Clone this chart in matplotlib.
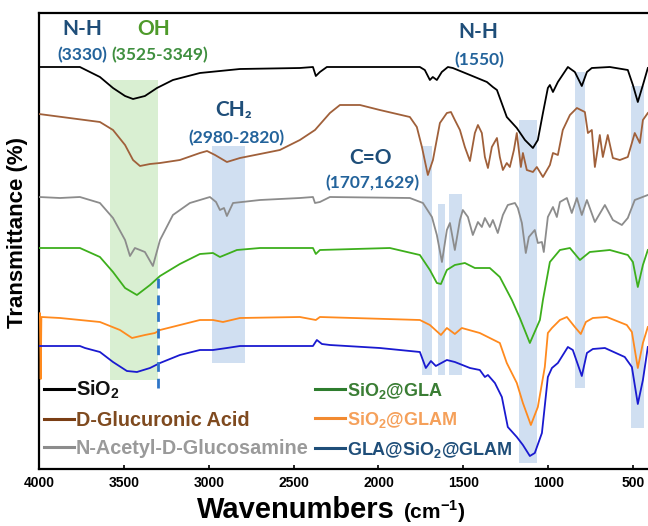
import matplotlib
matplotlib.use("Agg")
import matplotlib.pyplot as plt
from matplotlib.lines import Line2D

plt.rcParams['font.family'] = ['Liberation Sans', 'DejaVu Sans']
plt.rcParams['mathtext.fontset'] = 'custom'
plt.rcParams['mathtext.rm'] = 'Liberation Sans'
plt.rcParams['mathtext.bf'] = 'Liberation Sans:bold'

# ---------------- data (wavenumber cm-1, transmittance a.u. incl. offset) ----------------
sio2_wn = [4000, 3759, 3641, 3564, 3493, 3446, 3376, 3305, 3211, 3052, 2816, 2463, 2386, 2369, 2345, 2304,
           1756, 1727, 1697, 1680, 1656, 1627, 1591, 1562, 1461, 1361, 1326, 1302, 1244, 1185, 1137, 1090,
           1061, 1031, 1002, 990, 972, 943, 884, 843, 802, 772, 743, 637, 531, 501, 472, 442, 413]
sio2_t = [402, 402, 392, 381, 373, 370, 373, 381, 389, 396, 400, 401, 402, 393, 397, 402,
          402, 399, 389, 392, 389, 397, 402, 401, 394, 387, 382, 379, 352, 341, 329, 321,
          329, 356, 381, 384, 377, 387, 402, 397, 383, 397, 401, 402, 399, 384, 367, 384, 401]

gla_wn = [4000, 3641, 3564, 3493, 3446, 3405, 3346, 3287, 3170, 3052, 3010, 2963, 2893, 2816, 2698, 2581,
          2463, 2374, 2286, 2227, 2109, 1992, 1815, 1774, 1744, 1709, 1679, 1638, 1597, 1573, 1550, 1520,
          1491, 1461, 1432, 1414, 1391, 1373, 1355, 1332, 1302, 1285, 1267, 1244, 1226, 1202, 1185, 1173,
          1161, 1149, 1126, 1090, 1067, 1031, 990, 972, 943, 914, 872, 831, 784, 766, 743, 725, 696, 678,
          649, 619, 578, 531, 490, 460, 442, 413]
gla_t = [355, 347, 339, 324, 309, 303, 305, 306, 309, 316, 318, 314, 307, 311, 315, 319,
         329, 339, 356, 364, 364, 359, 352, 342, 322, 294, 309, 346, 356, 357, 349, 339,
         322, 308, 336, 344, 336, 312, 301, 322, 331, 312, 299, 306, 302, 319, 336, 319,
         302, 316, 299, 297, 302, 292, 304, 316, 314, 339, 354, 361, 357, 336, 339, 302, 334, 312,
         334, 311, 309, 312, 336, 326, 349, 356]

nag_wn = [4000, 3876, 3759, 3641, 3564, 3493, 3464, 3435, 3405, 3376, 3329, 3287, 3211, 3111, 2993, 2957,
          2934, 2910, 2893, 2857, 2698, 2463, 2386, 2374, 2345, 2286, 1815, 1738, 1685, 1656, 1626, 1597,
          1579, 1550, 1520, 1503, 1473, 1444, 1414, 1391, 1373, 1344, 1326, 1297, 1267, 1238, 1196, 1179,
          1155, 1132, 1114, 1079, 1061, 1037, 1026, 1002, 972, 949, 931, 890, 861, 831, 802, 772, 725,
          666, 619, 566, 531, 490, 413]
nag_t = [272, 271, 272, 266, 251, 229, 213, 221, 219, 217, 203, 229, 254, 266, 272, 267,
         259, 261, 253, 266, 269, 271, 272, 266, 267, 272, 271, 266, 252, 234, 207, 239,
         246, 219, 249, 259, 252, 234, 247, 242, 251, 242, 249, 236, 254, 264, 266, 261,
         246, 216, 232, 239, 226, 227, 217, 252, 262, 252, 267, 271, 256, 271, 254, 269, 247,
         264, 249, 244, 251, 269, 274]

sgla_wn = [4000, 3759, 3641, 3564, 3493, 3423, 3346, 3287, 3170, 3052, 2975, 2934, 2834, 2698, 2386, 2369,
           2345, 1933, 1756, 1697, 1656, 1632, 1597, 1550, 1491, 1432, 1344, 1285, 1214, 1167, 1108, 1049,
           1031, 990, 931, 872, 813, 755, 637, 531, 501, 472, 442, 413]
sgla_t = [221, 221, 212, 197, 181, 174, 184, 193, 205, 215, 216, 212, 219, 221, 221, 215,
          219, 221, 214, 199, 186, 185, 199, 204, 206, 201, 201, 192, 169, 151, 126, 149,
          169, 207, 219, 221, 209, 217, 219, 214, 207, 182, 204, 219]

sglam_wn = [4000, 3995, 3990, 3986, 3876, 3641, 3523, 3452, 3376, 3317, 3287, 3052, 2975, 2916, 2816, 2463,
            2369, 2345, 1756, 1697, 1632, 1597, 1550, 1509, 1403, 1285, 1244, 1185, 1149, 1102, 1061, 1020,
            1002, 978, 931, 890, 843, 808, 778, 737, 655, 537, 507, 472, 442, 413]
sglam_t = [152, 156, 90, 152, 151, 147, 139, 131, 134, 136, 139, 149, 149, 147, 151, 152,
           149, 152, 149, 144, 134, 141, 135, 141, 136, 126, 106, 86, 66, 44, 62, 102,
           136, 141, 149, 152, 142, 135, 147, 151, 152, 144, 137, 101, 126, 142]

both_wn = [4000, 3759, 3729, 3641, 3564, 3482, 3423, 3346, 3287, 3170, 3052, 2975, 2893, 2816, 2386, 2363,
           2333, 2286, 1992, 1756, 1721, 1691, 1662, 1597, 1550, 1461, 1403, 1373, 1355, 1314, 1273, 1238,
           1185, 1149, 1108, 1079, 1037, 1002, 978, 943, 884, 855, 802, 772, 737, 666, 549, 507, 472, 442, 413]
both_t = [123, 123, 121, 117, 107, 98, 97, 101, 106, 114, 119, 119, 121, 123, 123, 129,
          125, 124, 121, 117, 101, 108, 103, 109, 107, 101, 99, 92, 94, 86, 72, 42,
          32, 24, 13, 16, 36, 92, 101, 106, 122, 119, 93, 116, 120, 121, 112, 102, 65, 89, 122]

# shaded bands: (wn_high, wn_low, t_bottom, t_top)
oh_band = (3582, 3299, 89, 389)
blue_bands = [(2981, 2787, 106, 323), (1744, 1685, 94, 323), (1650, 1609, 94, 265),
              (1585, 1509, 94, 275), (1173, 1067, 6, 349), (843, 784, 81, 397), (513, 437, 41, 383)]
nh_line = (3300, 81, 192)

x_ticks = [4000, 3500, 3000, 2500, 2000, 1500, 1000, 500]

series = [
    (r"SiO$_\mathbf{2}$", sio2_wn, sio2_t, '#000000', '#000000', '#111111'),
    ("D-Glucuronic Acid", gla_wn, gla_t, '#A0603A', '#7A3E14', '#7F4A1F'),
    ("N-Acetyl-D-Glucosamine", nag_wn, nag_t, '#8C8C8C', '#8C8C8C', '#9A9A9A'),
    (r"SiO$_\mathbf{2}$@GLA", sgla_wn, sgla_t, '#3DAF1C', '#2E7D2E', '#3A7D34'),
    (r"SiO$_\mathbf{2}$@GLAM", sglam_wn, sglam_t, '#FF8A1E', '#F28A30', '#F5A05A'),
    (r"GLA@SiO$_\mathbf{2}$@GLAM", both_wn, both_t, '#1A1AD0', '#1F4E79', '#1F4E79'),
]

W, H = 648, 526
fig = plt.figure(figsize=(W / 100, H / 100), dpi=100)
ax = fig.add_axes([39 / W, 1 - 469 / H, 1 - 39 / W, (469 - 13) / H])

# bands
ax.fill_between([oh_band[0], oh_band[1]], oh_band[2], oh_band[3], color='#D9EFD2', lw=0, zorder=0)
for b in blue_bands:
    ax.fill_between([b[0], b[1]], b[2], b[3], color='#D0DFF1', lw=0, zorder=0)

for name, wn, t, col, _, _ in series:
    ax.plot(wn, t, color=col, lw=1.3, zorder=3)

ax.plot([nh_line[0], nh_line[0]], [nh_line[1], nh_line[2]], color='#2E75C8', lw=2.0,
        ls=(0, (3.5, 2.5)), zorder=4)

ax.set_xlim(4000, 412)
ax.set_ylim(0, 456)
ax.set_yticks([])
ax.set_xticks(x_ticks)
ax.set_xticklabels([str(v) for v in x_ticks], fontweight='bold', fontsize=10)
ax.tick_params(axis='x', direction='in', length=3, width=1.2, pad=5)
for s in ['left', 'bottom', 'top']:
    ax.spines[s].set_linewidth(1.6)
ax.spines['right'].set_visible(False)

# legend
handles = [Line2D([0], [0], color=s[4], lw=2.2) for s in series]
labels = [s[0] for s in series]
leg = ax.legend(handles, labels, ncol=2, loc='upper left', frameon=False,
                bbox_to_anchor=(44 / W, 1 - 379 / H), bbox_transform=fig.transFigure,
                borderpad=0, borderaxespad=0, handlelength=1.5, handletextpad=0.1,
                columnspacing=0.35, labelspacing=0.47,
                prop={'weight': 'bold', 'size': 14.3})
for i, (txt, s) in enumerate(zip(leg.get_texts(), series)):
    txt.set_color(s[5])
    if i >= 3:
        txt.set_fontsize(13)

# annotations
hdr = '#1F4E79'
val = '#23639B'
afont = ['Lato', 'DejaVu Sans']
def ftext(x, y, s, color, size):
    fig.text(x / W, 1 - y / H, s, color=color, fontsize=size, fontweight='bold',
             ha='center', va='center', family=afont)

ftext(82, 29, 'N-H', hdr, 15)
ftext(82, 55, '(3330)', val, 12.5)
ftext(154, 29, 'OH', '#4E9A2A', 15)
ftext(160, 55, '(3525-3349)', '#3F8F3F', 12.5)
ftext(234, 110, 'CH\u2082', hdr, 15)
ftext(236, 138, '(2980-2820)', val, 12.5)
ftext(370, 158, 'C=O', hdr, 15)
ftext(372, 183, '(1707,1629)', val, 12.5)
ftext(478, 32, 'N-H', hdr, 15)
ftext(479, 60, '(1550)', val, 12.5)

# axis labels
fig.text(18 / W, 1 - 232 / H, 'Transmittance (%)', rotation=90, fontsize=16, fontweight='bold',
         ha='center', va='center')
fig.text(197 / W, 1 - 510 / H, 'Wavenumbers', fontsize=21, fontweight='bold', ha='left', va='center')
fig.text(403 / W, 1 - 512 / H, r'(cm$^{\mathbf{-1}}$)', fontsize=15, fontweight='bold',
         ha='left', va='center')

fig.savefig('out.png', dpi=100)
